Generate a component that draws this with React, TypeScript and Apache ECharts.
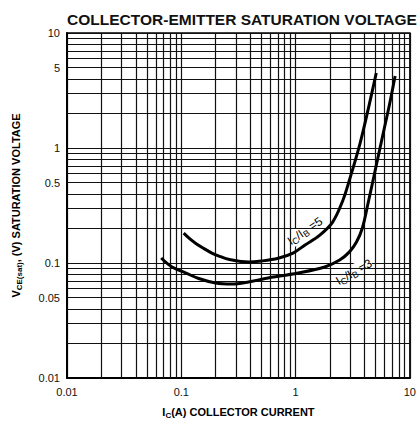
import React, { useEffect, useRef } from "react";
import * as echarts from "echarts";

// Collector current IC (A) and VCE(sat) (V)
const ratio5X = [0.105, 0.119, 0.134, 0.157, 0.185, 0.221, 0.259, 0.387, 0.501, 0.704, 0.949, 1.21, 1.63, 2.11, 2.58, 2.96, 3.69, 4.42, 5.08];
const ratio5Y = [0.182, 0.162, 0.148, 0.134, 0.122, 0.1135, 0.1076, 0.102, 0.104, 0.11, 0.122, 0.1435, 0.175, 0.227, 0.346, 0.527, 1.127, 2.41, 4.49];
const ratio3X = [0.0667, 0.083, 0.11, 0.142, 0.2, 0.275, 0.387, 0.543, 1.05, 1.8, 2.43, 2.96, 3.41, 3.84, 4.33, 4.98, 5.85, 6.59, 7.43];
const ratio3Y = [0.1105, 0.0923, 0.0818, 0.0733, 0.067, 0.0657, 0.0684, 0.0733, 0.0818, 0.0923, 0.106, 0.125, 0.152, 0.2015, 0.339, 0.644, 1.35, 2.32, 4.23];

const xTickLabels = ["0.01", "0.1", "1", "10"];
const yTickLabels = ["0.01", "0.1", "1", "10"];
const yExtraLabels = [0.05, 0.5, 5];
const decades = [0.01, 0.1, 1];
const minorSteps = [2, 3, 4, 5, 6, 7, 8, 9];

const FONT = "'Liberation Sans', Arial, sans-serif";

function nearestLabel(v: number, labels: string[]) {
  let best = labels[0];
  let bd = Infinity;
  for (const l of labels) {
    const d = Math.abs(Math.log10(parseFloat(l)) - Math.log10(v));
    if (d < bd) {
      bd = d;
      best = l;
    }
  }
  return best;
}

export default function App() {
  const ref = useRef<HTMLDivElement>(null);
  useEffect(() => {
    document.body.style.margin = "0";
    if (!ref.current) return;
    const chart = echarts.init(ref.current, undefined, { renderer: "svg" });

    const minorVals: number[] = [];
    decades.forEach((d) => minorSteps.forEach((s) => minorVals.push(+(d * s).toPrecision(3))));

    const gridLine = { type: "solid", color: "#111", width: 1.2 };
    const subRich = {
      v: { fontSize: 11, fontWeight: "bold", fontFamily: FONT, color: "#000" },
      s: { fontSize: 8, fontWeight: "bold", fontFamily: FONT, color: "#000", padding: [6, 0, 0, 0] },
    };
    const curveRich = {
      n: { fontSize: 12, fontFamily: FONT, color: "#000" },
      s: { fontSize: 9, fontFamily: FONT, color: "#000", padding: [6, 0, 0, 0] },
    };

    chart.setOption({
      animation: false,
      title: {
        text: "COLLECTOR-EMITTER SATURATION VOLTAGE",
        left: 237,
        textAlign: "center",
        top: 6,
        textStyle: { fontFamily: FONT, fontSize: 15.5, fontWeight: "bold", color: "#111" },
      },
      grid: {
        left: 67,
        right: 6,
        top: 33,
        bottom: 55,
        show: true,
        borderColor: "#000",
        borderWidth: 1.5,
        backgroundColor: "#fff",
      },
      xAxis: {
        type: "log",
        logBase: 10,
        min: 0.01,
        max: 10,
        name: "{v|I}{s|C}{v|(A) COLLECTOR CURRENT}",
        nameLocation: "middle",
        nameGap: 27,
        nameTextStyle: { rich: subRich },
        axisLine: { show: true, lineStyle: { color: "#000", width: 2 } },
        axisTick: { show: false },
        splitLine: { show: true, lineStyle: gridLine },
        axisLabel: {
          fontFamily: FONT,
          fontSize: 11,
          color: "#111",
          margin: 8,
          formatter: (v: number) => nearestLabel(v, xTickLabels),
        },
      },
      yAxis: {
        type: "log",
        logBase: 10,
        min: 0.01,
        max: 10,
        name: "{v|V}{s|CE(sat)}{v|, (V) SATURATION VOLTAGE}",
        nameLocation: "middle",
        nameGap: 44,
        nameTextStyle: { rich: subRich },
        axisLine: { show: true, lineStyle: { color: "#000", width: 2 } },
        axisTick: { show: false },
        splitLine: { show: true, lineStyle: gridLine },
        axisLabel: {
          fontFamily: FONT,
          fontSize: 11,
          color: "#111",
          margin: 7,
          formatter: (v: number) => nearestLabel(v, yTickLabels),
        },
      },
      series: [
        {
          type: "line",
          data: [],
          silent: true,
          markLine: {
            silent: true,
            symbol: ["none", "none"],
            lineStyle: gridLine,
            label: { show: false },
            data: [
              ...minorVals.map((v) => ({ xAxis: v })),
              ...minorVals.map((v) => ({
                yAxis: v,
                label: yExtraLabels.includes(v)
                  ? {
                      show: true,
                      position: "start",
                      distance: 7,
                      formatter: String(v),
                      fontFamily: FONT,
                      fontSize: 11,
                      color: "#111",
                    }
                  : { show: false },
              })),
            ],
          },
        },
        {
          type: "line",
          name: "IC/IB=5",
          data: ratio5X.map((x, i) => [x, ratio5Y[i]]),
          smooth: 0.35,
          symbol: "none",
          lineStyle: { color: "#000", width: 3 },
          z: 5,
        },
        {
          type: "line",
          name: "IC/IB=3",
          data: ratio3X.map((x, i) => [x, ratio3Y[i]]),
          smooth: 0.35,
          symbol: "none",
          lineStyle: { color: "#000", width: 3 },
          z: 5,
        },
      ],
      graphic: [
        {
          type: "text",
          x: 305,
          y: 231,
          rotation: 0.6,
          style: {
            text: "{n|I}{s|C}{n|/I}{s|B}{n| =5}",
            align: "center",
            verticalAlign: "middle",
            backgroundColor: "#fff",
            rich: curveRich,
          },
          z: 4,
        },
        {
          type: "text",
          x: 354,
          y: 272,
          rotation: 0.52,
          style: {
            text: "{n|I}{s|C}{n|/I}{s|B}{n| =3}",
            align: "center",
            verticalAlign: "middle",
            backgroundColor: "#fff",
            rich: curveRich,
          },
          z: 4,
        },
      ],
    });
    return () => chart.dispose();
  }, []);
  return <div ref={ref} style={{ width: 419, height: 433 }} />;
}
